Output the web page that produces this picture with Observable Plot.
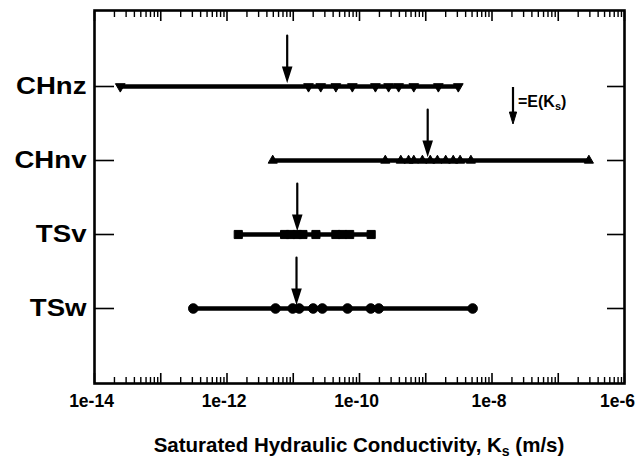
<!DOCTYPE html>
<html>
<head>
<meta charset="utf-8">
<script src="https://cdn.jsdelivr.net/npm/d3@7"></script>
<script src="https://cdn.jsdelivr.net/npm/@observablehq/plot@0.6"></script>
<style>
  html, body { margin: 0; padding: 0; background: #fff; }
  svg { display: block; }
</style>
</head>
<body>
<div id="chart"></div>
<script>
// Hydrogeologic units, top to bottom
const units = ["CHnz", "CHnv", "TSv", "TSw"];

// Measured saturated hydraulic conductivity samples (m/s) per unit
const ksCHnz = [2.45e-14, 1.7e-11, 2.6e-11, 4.4e-11, 7.8e-11, 1.74e-10, 2.75e-10, 3.9e-10, 6.6e-10, 1.55e-9, 3.1e-9];
const ksCHnv = [4.9e-12, 2.45e-10, 4.2e-10, 5.5e-10, 6.6e-10, 8.9e-10, 1.17e-9, 1.5e-9, 2.0e-9, 2.6e-9, 3.3e-9, 4.8e-9, 2.9e-7];
const ksTSv  = [1.48e-12, 7.4e-12, 9.1e-12, 1.15e-11, 1.4e-11, 2.2e-11, 4.4e-11, 5.5e-11, 7.1e-11, 1.5e-10];
const ksTSw  = [3.1e-13, 5.4e-12, 9.8e-12, 1.23e-11, 2.0e-11, 2.75e-11, 6.6e-11, 1.48e-10, 1.95e-10, 5.1e-9];

// Expected value E(Ks) per unit (m/s), same order as units
const meanKs = [8.1e-12, 1.07e-9, 1.15e-11, 1.12e-11];

// Labelled decades on the x axis
const decadeTicks = [1e-14, 1e-12, 1e-10, 1e-8, 1e-6];
const decadeLabels = ["1e-14", "1e-12", "1e-10", "1e-8", "1e-6"];

const samples = [ksCHnz, ksCHnv, ksTSv, ksTSw];
const rows = units.flatMap((u, i) => samples[i].map(k => ({unit: u, k})));

// Tick positions: every decade, and 2..9 within each decade
const majorTicks = d3.range(-14, -5).map(e => Math.pow(10, e));
const minorTicks = d3.range(-14, -6).flatMap(e => d3.range(2, 10).map(m => m * Math.pow(10, e)));

// Marker style per unit
const markerStyle = {
  CHnz: {symbol: "triangle", r: 3.6, rotate: 180},
  CHnv: {symbol: "triangle", r: 3.4, rotate: 0},
  TSv:  {symbol: "square",   r: 4.6, rotate: 0},
  TSw:  {symbol: "circle",   r: 4.8, rotate: 0}
};

// Downward arrow marking E(Ks): a shaft and a filled narrow head
const arrowShape = {
  draw(ctx, l) {
    const hl = 12, hw = 3.8;
    ctx.moveTo(0, 0);
    ctx.lineTo(0, -l + hl);
    ctx.moveTo(0, -l);
    ctx.lineTo(-hw, -l + hl);
    ctx.lineTo(hw, -l + hl);
    ctx.closePath();
  }
};

const font = "'Liberation Sans', Arial, Helvetica, sans-serif";
const lastTick = decadeTicks[decadeTicks.length - 1];
const tickLabel = d => decadeLabels[decadeTicks.indexOf(d)];

const chart = Plot.plot({
  width: 637,
  height: 463,
  marginLeft: 94,
  marginRight: 13,
  marginTop: 10,
  marginBottom: 80,
  style: {fontFamily: font, fontWeight: "bold", color: "#000", background: "#fff", overflow: "visible"},
  x: {type: "log", domain: [1e-14, 1e-6], label: null},
  y: {type: "point", domain: units, padding: 1, label: null},
  marks: [
    // tick marks pointing into the frame
    Plot.axisX(majorTicks, {anchor: "bottom", tickSize: -10, tickFormat: () => "", strokeWidth: 1.6}),
    Plot.axisX(minorTicks, {anchor: "bottom", tickSize: -6, tickFormat: () => "", strokeWidth: 1.4}),
    Plot.axisX(majorTicks, {anchor: "top", tickSize: -10, tickFormat: () => "", strokeWidth: 1.6}),
    Plot.axisX(minorTicks, {anchor: "top", tickSize: -6, tickFormat: () => "", strokeWidth: 1.4}),
    // decade labels; the last one is nudged inside the page edge
    Plot.axisX(decadeTicks.filter(d => d !== lastTick), {anchor: "bottom", tickSize: 0, tickPadding: 11,
      fontSize: 17.5, dx: -3, tickFormat: tickLabel}),
    Plot.axisX([lastTick], {anchor: "bottom", tickSize: 0, tickPadding: 11,
      fontSize: 17.5, dx: -7, tickFormat: tickLabel}),
    Plot.axisY({anchor: "left", tickSize: -20, tickFormat: () => "", strokeWidth: 1.6}),
    Plot.axisY({anchor: "right", tickSize: -18, tickFormat: () => "", strokeWidth: 1.6}),
    Plot.axisY({anchor: "left", tickSize: 0, tickPadding: 8, fontSize: 23}),
    Plot.frame({strokeWidth: 2.6}),
    // range of measurements per unit
    Plot.ruleY(rows, Plot.groupY({x1: "min", x2: "max"}, {x1: "k", x2: "k", y: "unit", strokeWidth: 4.5})),
    // individual measurements
    ...units.map(u => Plot.dot(rows.filter(d => d.unit === u), {
      x: "k", y: "unit",
      symbol: markerStyle[u].symbol, r: markerStyle[u].r, rotate: markerStyle[u].rotate,
      fill: "#000", stroke: "#000", strokeWidth: 1
    })),
    // expected value arrows
    Plot.vector(units, {
      x: (d, i) => meanKs[i], y: d => d,
      length: 44, rotate: 180, anchor: "end", dy: -7,
      shape: arrowShape, fill: "#000", stroke: "#000", strokeWidth: 2.2, strokeLinejoin: "miter"
    })
  ]
});

document.getElementById("chart").append(chart);

const svg = d3.select(chart);

// widen the unit names a little (wide bold face)
svg.selectAll('g[aria-label="y-axis tick label"] text').each(function () {
  const w = this.getComputedTextLength();
  if (w > 0) d3.select(this).attr("textLength", w * 1.2).attr("lengthAdjust", "spacingAndGlyphs");
});

// Legend: arrow = E(Ks)
const lg = svg.append("g");
lg.append("line").attr("x1", 513).attr("x2", 513).attr("y1", 87).attr("y2", 112)
  .attr("stroke", "#000").attr("stroke-width", 2.2);
lg.append("path").attr("d", "M513,124L509.4,112L516.6,112Z")
  .attr("fill", "#000").attr("stroke", "#000").attr("stroke-width", 1);
const lt = lg.append("text").attr("x", 518).attr("y", 107).attr("text-anchor", "start")
  .attr("font-family", font).attr("font-weight", "bold").attr("font-size", 16).attr("fill", "#000");
lt.append("tspan").text("=E(K");
lt.append("tspan").attr("font-size", 11).attr("dy", 3).text("s");
lt.append("tspan").attr("dy", -3).text(")");

// x-axis title with subscript
const xt = svg.append("text").attr("x", 359).attr("y", 452).attr("text-anchor", "middle")
  .attr("font-family", font).attr("font-weight", "bold").attr("font-size", 20.5).attr("fill", "#000");
xt.append("tspan").text("Saturated Hydraulic Conductivity, K");
xt.append("tspan").attr("font-size", 14).attr("dy", 4).text("s");
xt.append("tspan").attr("dy", -4).text(" (m/s)");
</script>
</body>
</html>
